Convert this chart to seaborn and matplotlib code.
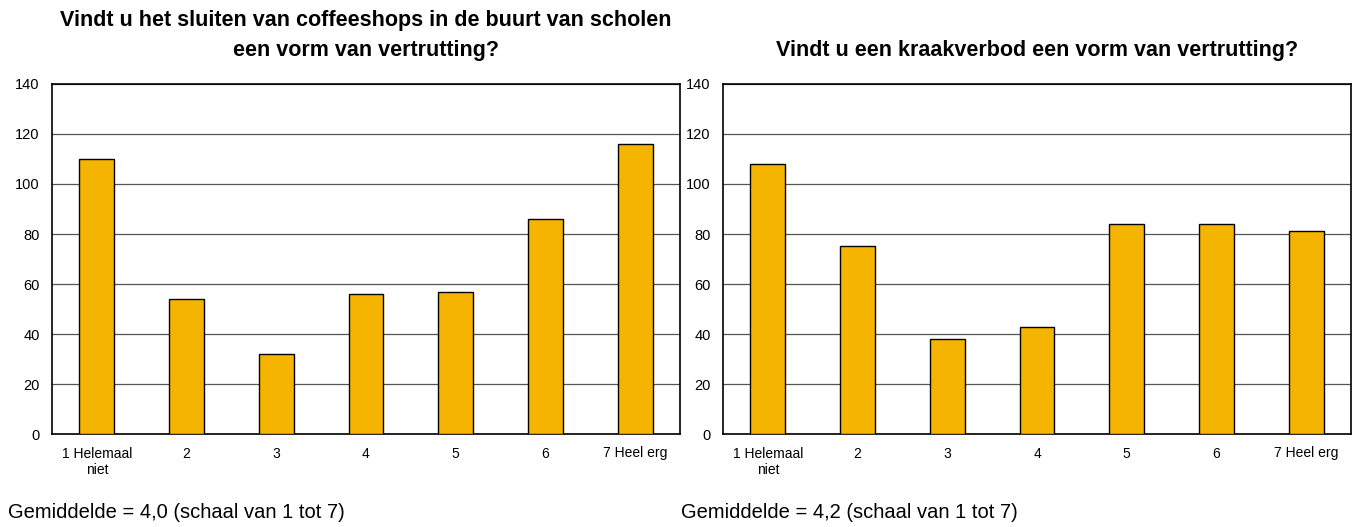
import matplotlib
matplotlib.use("Agg")
import matplotlib.pyplot as plt
import pandas as pd
import seaborn as sns

sns.set_style("white")
plt.rcParams['font.family'] = ['Liberation Sans', 'DejaVu Sans']
plt.rcParams['text.color'] = 'black'
plt.rcParams['xtick.color'] = 'black'
plt.rcParams['ytick.color'] = 'black'

## Data
categories = ["1 Helemaal\nniet", "2", "3", "4", "5", "6", "7 Heel erg"]
coffeeshops = [110, 54, 32, 56, 57, 86, 116]
kraakverbod = [108, 75, 38, 43, 84, 84, 81]

titles = ["Vindt u het sluiten van coffeeshops in de buurt van scholen\neen vorm van vertrutting?",
          "Vindt u een kraakverbod een vorm van vertrutting?"]
notes = ["Gemiddelde = 4,0 (schaal van 1 tot 7)",
         "Gemiddelde = 4,2 (schaal van 1 tot 7)"]
yticks = [0, 20, 40, 60, 80, 100, 120, 140]

bar_color = "#F5B400"

fig = plt.figure(figsize=(13.59, 5.27), dpi=100)
ax_left = fig.add_axes([52 / 1359, 93 / 527, 628 / 1359, 350 / 527])
ax_right = fig.add_axes([723 / 1359, 93 / 527, 628 / 1359, 350 / 527])

for ax, values, title, note, tx in [(ax_left, coffeeshops, titles[0], notes[0], 8),
                                     (ax_right, kraakverbod, titles[1], notes[1], 681)]:
    df = pd.DataFrame({"Antwoord": categories, "Aantal": values})
    sns.barplot(data=df, x="Antwoord", y="Aantal", ax=ax, color=bar_color,
                width=0.39, edgecolor="black", linewidth=1, saturation=1, zorder=3)
    ax.set_ylim(0, 140)
    ax.set_xlim(-0.5, len(categories) - 0.5)
    ax.set_yticks(yticks)
    ax.yaxis.grid(True, color="#555555", linewidth=0.9, zorder=0)
    ax.set_axisbelow(True)
    for s in ax.spines.values():
        s.set_color("black")
        s.set_linewidth(1.2)
    ax.set_xlabel("")
    ax.set_ylabel("")
    ax.tick_params(axis="x", labelsize=10, length=0, pad=9)
    ax.tick_params(axis="y", labelsize=10.5, length=0, pad=9)
    ax.set_title(title, fontsize=15.5, fontweight="bold", pad=20, linespacing=1.6)
    fig.text(tx / 1359, 1 - 513 / 527, note, fontsize=14.5, va="center", ha="left")

fig.savefig("out.png", dpi=100)
